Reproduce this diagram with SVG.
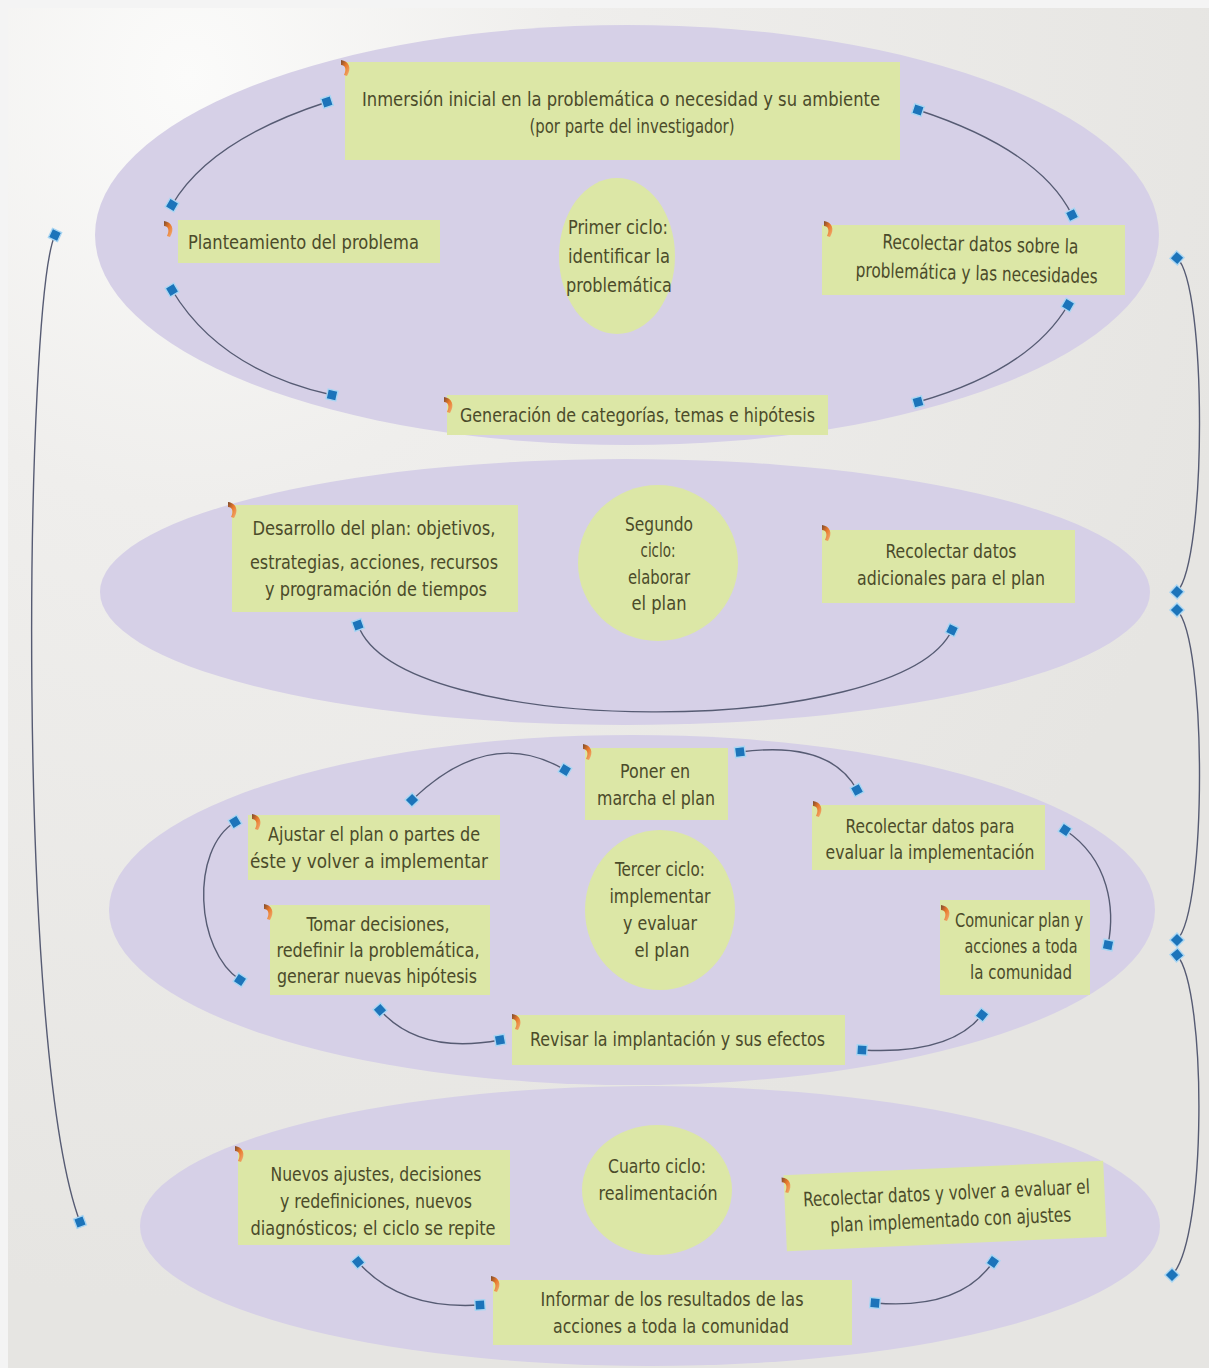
<svg xmlns="http://www.w3.org/2000/svg" width="1209" height="1368" viewBox="0 0 1209 1368">
<defs>
<radialGradient id="paper" cx="0.15" cy="0.05" r="0.9">
<stop offset="0" stop-color="#fbfbfa"/>
<stop offset="0.35" stop-color="#efeeec"/>
<stop offset="1" stop-color="#e6e5e2"/>
</radialGradient>
<linearGradient id="orn" x1="0" y1="0" x2="1" y2="1">
<stop offset="0" stop-color="#7a4a2e"/>
<stop offset="0.45" stop-color="#e8782a"/>
<stop offset="1" stop-color="#f2b27a"/>
</linearGradient>
<marker id="sq" viewBox="-8 -8 16 16" markerWidth="16" markerHeight="16" markerUnits="userSpaceOnUse" orient="auto">
<rect x="-5" y="-5" width="10" height="10" fill="#1c74ba" stroke="#a9d6f3" stroke-width="1.4"/>
</marker>
<path id="mark" d="M0,0 C8,1 11,8 6,16 L3,15 C6,9 4,5 0,5 Z" fill="url(#orn)"/>
</defs>
<style>
.ell{fill:#d6d0e7}
.box{fill:#dce7a6}
.cir{fill:#dce7a6}
.t{font-family:"Liberation Sans Narrow","DejaVu Sans Condensed","Roboto Condensed","Liberation Sans",sans-serif;font-stretch:condensed;font-size:20px;fill:#4b4b2a;text-anchor:middle}
.l{text-anchor:start}
.con{fill:none;stroke:#565b73;stroke-width:1.4;marker-start:url(#sq);marker-end:url(#sq)}
</style>
<rect x="0" y="0" width="1209" height="1368" fill="#f4f4f4"/>
<rect x="8" y="8" width="1201" height="1360" fill="url(#paper)"/>

<g id="ellipses">
<ellipse class="ell" cx="627" cy="235" rx="532" ry="210"/>
<ellipse class="ell" cx="625" cy="592" rx="525" ry="133"/>
<ellipse class="ell" cx="632" cy="910" rx="523" ry="175"/>
<ellipse class="ell" cx="650" cy="1226" rx="510" ry="140"/>
</g>

<g id="connectors">
<path class="con" d="M327,102 Q210,140 172,205"/>
<path class="con" d="M918,110 Q1040,150 1072,215"/>
<path class="con" d="M172,290 Q220,370 332,395"/>
<path class="con" d="M1068,305 Q1030,370 918,402"/>
<path class="con" d="M358,625 C400,740 900,740 952,630"/>
<path class="con" d="M565,770 Q490,725 412,800"/>
<path class="con" d="M740,752 Q830,740 857,790"/>
<path class="con" d="M235,822 C190,850 195,950 240,980"/>
<path class="con" d="M1065,830 C1110,860 1115,910 1108,945"/>
<path class="con" d="M380,1010 Q420,1055 500,1040"/>
<path class="con" d="M982,1015 Q950,1055 862,1050"/>
<path class="con" d="M358,1262 Q400,1310 480,1305"/>
<path class="con" d="M993,1262 Q960,1310 875,1303"/>
<path class="con" d="M55,235 C25,300 15,1050 80,1222"/>
<path class="con" d="M1177,258 C1207,285 1207,560 1177,592"/>
<path class="con" d="M1177,610 C1207,640 1207,910 1177,940"/>
<path class="con" d="M1177,955 C1207,990 1207,1240 1172,1275"/>
</g>

<g id="n-inmersion">
<rect class="box" x="345" y="62" width="555" height="98"/>
<use href="#mark" x="341" y="60"/>
<text class="t" x="621" y="106" textLength="518" lengthAdjust="spacingAndGlyphs">Inmersión inicial en la problemática o necesidad y su ambiente</text>
<text class="t" x="632" y="133" textLength="205" lengthAdjust="spacingAndGlyphs">(por parte del investigador)</text>
</g>
<g id="n-planteamiento">
<rect class="box" x="178" y="220" width="262" height="43"/>
<use href="#mark" x="164" y="221"/>
<text class="t l" x="188" y="249" textLength="231" lengthAdjust="spacingAndGlyphs">Planteamiento del problema</text>
</g>
<g id="n-ciclo1">
<ellipse class="cir" cx="617" cy="256" rx="58" ry="78"/>
<text class="t" x="618" y="234" textLength="100" lengthAdjust="spacingAndGlyphs">Primer ciclo:</text>
<text class="t" x="619" y="263" textLength="102" lengthAdjust="spacingAndGlyphs">identificar la</text>
<text class="t" x="619" y="292" textLength="106" lengthAdjust="spacingAndGlyphs">problemática</text>
</g>
<g id="n-recolectar1">
<rect class="box" x="822" y="225" width="303" height="70"/>
<use href="#mark" x="824" y="221"/>
<g transform="rotate(1.5 978 260)">
<text class="t" x="980" y="251" textLength="196" lengthAdjust="spacingAndGlyphs">Recolectar datos sobre la</text>
<text class="t" x="977" y="280" textLength="242" lengthAdjust="spacingAndGlyphs">problemática y las necesidades</text>
</g>
</g>
<g id="n-generacion">
<rect class="box" x="447" y="395" width="381" height="40"/>
<use href="#mark" x="444" y="397"/>
<text class="t l" x="460" y="422" textLength="355" lengthAdjust="spacingAndGlyphs">Generación de categorías, temas e hipótesis</text>
</g>

<g id="n-desarrollo">
<rect class="box" x="232" y="505" width="286" height="107"/>
<use href="#mark" x="228" y="502"/>
<text class="t" x="374" y="535" textLength="243" lengthAdjust="spacingAndGlyphs">Desarrollo del plan: objetivos,</text>
<text class="t" x="374" y="569" textLength="248" lengthAdjust="spacingAndGlyphs">estrategias, acciones, recursos</text>
<text class="t" x="376" y="596" textLength="222" lengthAdjust="spacingAndGlyphs">y programación de tiempos</text>
</g>
<g id="n-ciclo2">
<ellipse class="cir" cx="658" cy="563" rx="80" ry="78"/>
<text class="t" x="659" y="531" textLength="68" lengthAdjust="spacingAndGlyphs">Segundo</text>
<text class="t" x="658" y="557" textLength="35" lengthAdjust="spacingAndGlyphs">ciclo:</text>
<text class="t" x="659" y="584" textLength="62" lengthAdjust="spacingAndGlyphs">elaborar</text>
<text class="t" x="659" y="610" textLength="55" lengthAdjust="spacingAndGlyphs">el plan</text>
</g>
<g id="n-recolectar2">
<rect class="box" x="822" y="530" width="253" height="73"/>
<use href="#mark" x="822" y="525"/>
<text class="t" x="951" y="558" textLength="131" lengthAdjust="spacingAndGlyphs">Recolectar datos</text>
<text class="t" x="951" y="585" textLength="188" lengthAdjust="spacingAndGlyphs">adicionales para el plan</text>
</g>

<g id="n-poner">
<rect class="box" x="585" y="748" width="143" height="72"/>
<use href="#mark" x="583" y="744"/>
<text class="t" x="655" y="778" textLength="70" lengthAdjust="spacingAndGlyphs">Poner en</text>
<text class="t" x="656" y="805" textLength="118" lengthAdjust="spacingAndGlyphs">marcha el plan</text>
</g>
<g id="n-ajustar">
<rect class="box" x="248" y="815" width="252" height="65"/>
<use href="#mark" x="252" y="814"/>
<text class="t" x="374" y="841" textLength="212" lengthAdjust="spacingAndGlyphs">Ajustar el plan o partes de</text>
<text class="t" x="369" y="868" textLength="238" lengthAdjust="spacingAndGlyphs">éste y volver a implementar</text>
</g>
<g id="n-ciclo3">
<ellipse class="cir" cx="660" cy="910" rx="75" ry="80"/>
<text class="t" x="660" y="876" textLength="90" lengthAdjust="spacingAndGlyphs">Tercer ciclo:</text>
<text class="t" x="660" y="903" textLength="101" lengthAdjust="spacingAndGlyphs">implementar</text>
<text class="t" x="660" y="930" textLength="74" lengthAdjust="spacingAndGlyphs">y evaluar</text>
<text class="t" x="662" y="957" textLength="55" lengthAdjust="spacingAndGlyphs">el plan</text>
</g>
<g id="n-recolectar3">
<rect class="box" x="812" y="805" width="233" height="65"/>
<use href="#mark" x="813" y="801"/>
<text class="t" x="930" y="833" textLength="169" lengthAdjust="spacingAndGlyphs">Recolectar datos para</text>
<text class="t" x="930" y="859" textLength="209" lengthAdjust="spacingAndGlyphs">evaluar la implementación</text>
</g>
<g id="n-tomar">
<rect class="box" x="270" y="905" width="220" height="90"/>
<use href="#mark" x="264" y="904"/>
<text class="t" x="378" y="931" textLength="143" lengthAdjust="spacingAndGlyphs">Tomar decisiones,</text>
<text class="t" x="378" y="957" textLength="203" lengthAdjust="spacingAndGlyphs">redefinir la problemática,</text>
<text class="t" x="377" y="983" textLength="200" lengthAdjust="spacingAndGlyphs">generar nuevas hipótesis</text>
</g>
<g id="n-comunicar">
<rect class="box" x="940" y="900" width="150" height="95"/>
<use href="#mark" x="941" y="905"/>
<text class="t" x="1019" y="927" textLength="128" lengthAdjust="spacingAndGlyphs">Comunicar plan y</text>
<text class="t" x="1021" y="953" textLength="113" lengthAdjust="spacingAndGlyphs">acciones a toda</text>
<text class="t" x="1021" y="979" textLength="102" lengthAdjust="spacingAndGlyphs">la comunidad</text>
</g>
<g id="n-revisar">
<rect class="box" x="512" y="1015" width="333" height="50"/>
<use href="#mark" x="512" y="1014"/>
<text class="t l" x="530" y="1046" textLength="295" lengthAdjust="spacingAndGlyphs">Revisar la implantación y sus efectos</text>
</g>

<g id="n-nuevos">
<rect class="box" x="238" y="1150" width="272" height="95"/>
<use href="#mark" x="235" y="1146"/>
<text class="t" x="376" y="1181" textLength="211" lengthAdjust="spacingAndGlyphs">Nuevos ajustes, decisiones</text>
<text class="t" x="376" y="1208" textLength="192" lengthAdjust="spacingAndGlyphs">y redefiniciones, nuevos</text>
<text class="t" x="373" y="1235" textLength="245" lengthAdjust="spacingAndGlyphs">diagnósticos; el ciclo se repite</text>
</g>
<g id="n-ciclo4">
<ellipse class="cir" cx="657" cy="1190" rx="75" ry="65"/>
<text class="t" x="657" y="1173" textLength="98" lengthAdjust="spacingAndGlyphs">Cuarto ciclo:</text>
<text class="t" x="658" y="1200" textLength="119" lengthAdjust="spacingAndGlyphs">realimentación</text>
</g>
<g id="n-recolectar4" transform="rotate(-2.6 945 1205)">
<rect class="box" x="785" y="1168" width="320" height="76"/>
<use href="#mark" x="783" y="1170"/>
<text class="t" x="947" y="1200" textLength="287" lengthAdjust="spacingAndGlyphs">Recolectar datos y volver a evaluar el</text>
<text class="t" x="950" y="1227" textLength="241" lengthAdjust="spacingAndGlyphs">plan implementado con ajustes</text>
</g>
<g id="n-informar">
<rect class="box" x="493" y="1280" width="359" height="65"/>
<use href="#mark" x="491" y="1276"/>
<text class="t" x="672" y="1306" textLength="263" lengthAdjust="spacingAndGlyphs">Informar de los resultados de las</text>
<text class="t" x="671" y="1333" textLength="236" lengthAdjust="spacingAndGlyphs">acciones a toda la comunidad</text>
</g>
</svg>
